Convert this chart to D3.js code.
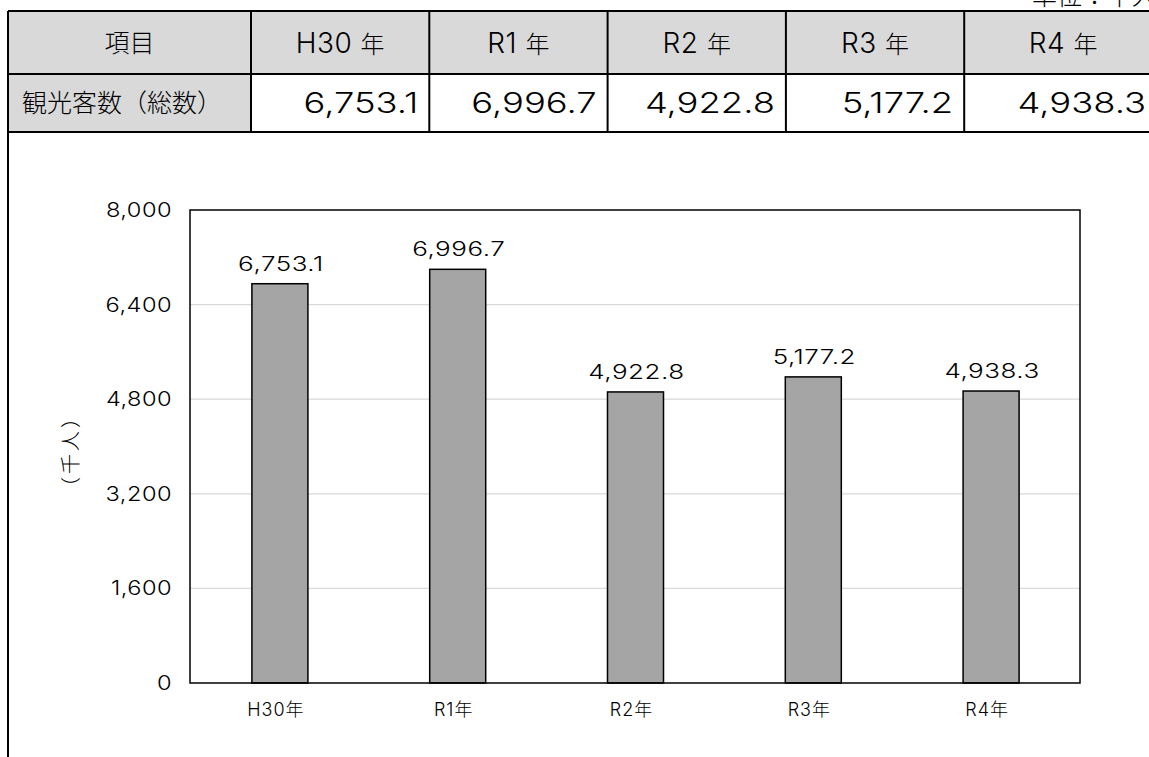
<!DOCTYPE html>
<html>
<head>
<meta charset="utf-8">
<script src="https://cdn.jsdelivr.net/npm/d3@7"></script>
<style>
  html, body { margin: 0; padding: 0; background: #fff; }
  svg { display: block; font-family: "Inter", "Noto Sans CJK JP", sans-serif; font-weight: 300; }
</style>
</head>
<body>
<svg id="chart" width="1149" height="757"></svg>
<script>
// Visitor counts (thousand people) by year
const categories = ["H30年", "R1年", "R2年", "R3年", "R4年"];
const headerLabels = ["H30 年", "R1 年", "R2 年", "R3 年", "R4 年"];
const values = [6753.1, 6996.7, 4922.8, 5177.2, 4938.3];
const yTicks = [0, 1600, 3200, 4800, 6400, 8000];
const itemLabel = "項目";
const rowLabel = "観光客数（総数）";
const unitLabel = "単位：千人";
const yTitle = "（千人）";

const svg = d3.select("#chart");
const fmt = d3.format(",.1f");
const FONT = "Inter, 'Noto Sans CJK JP', sans-serif";
const WIDE = 1.3;      // horizontal stretch for the wide numeral style
const WIDE_TICK = 1.18;

// ---------- summary table ----------
const tbl = { left: 8, top: 11, headerBottom: 74, bottom: 132, firstCol: 243, colW: 178.3, lastRight: 1162 };
const colEdges = [tbl.left, tbl.left + tbl.firstCol];
categories.forEach((c, i) => colEdges.push(i === categories.length - 1 ? tbl.lastRight : colEdges[colEdges.length - 1] + tbl.colW));

const tableG = svg.append("g");
// header row background
tableG.append("rect")
  .attr("x", tbl.left).attr("y", tbl.top)
  .attr("width", 1149 - tbl.left).attr("height", tbl.headerBottom - tbl.top)
  .attr("fill", "#d9d9d9");
// label cell of the data row
tableG.append("rect")
  .attr("x", tbl.left).attr("y", tbl.headerBottom)
  .attr("width", tbl.firstCol).attr("height", tbl.bottom - tbl.headerBottom)
  .attr("fill", "#d9d9d9");

// table rules
[tbl.top, tbl.headerBottom, tbl.bottom].forEach(y => {
  tableG.append("line").attr("x1", tbl.left).attr("x2", 1160).attr("y1", y).attr("y2", y)
    .attr("stroke", "#000").attr("stroke-width", 2);
});
colEdges.slice(1).forEach(x => {
  tableG.append("line").attr("x1", x).attr("x2", x).attr("y1", tbl.top).attr("y2", tbl.bottom)
    .attr("stroke", "#000").attr("stroke-width", 2);
});
// outer left border running down the page
tableG.append("line").attr("x1", tbl.left).attr("x2", tbl.left).attr("y1", tbl.top).attr("y2", 757)
  .attr("stroke", "#000").attr("stroke-width", 2);

const headerMid = (tbl.top + tbl.headerBottom) / 2;
const rowMid = (tbl.headerBottom + tbl.bottom) / 2;

// header cells
tableG.append("text")
  .attr("x", (colEdges[0] + colEdges[1]) / 2).attr("y", headerMid + 9)
  .attr("text-anchor", "middle").attr("font-size", 25).attr("fill", "#000")
  .text(itemLabel);

headerLabels.forEach((h, i) => {
  const [latin, kanji] = h.split(" ");
  const t = tableG.append("text")
    .attr("x", (colEdges[i + 1] + colEdges[i + 2]) / 2).attr("y", headerMid + 10)
    .attr("text-anchor", "middle").attr("fill", "#000");
  t.append("tspan").attr("font-size", 28).style("letter-spacing", "0.5px").text(latin + " ");
  t.append("tspan").attr("font-size", 24).text(kanji);
});

// data row
tableG.append("text")
  .attr("x", tbl.left + 14).attr("y", rowMid + 9)
  .attr("font-size", 25).attr("fill", "#000")
  .text(rowLabel);

values.forEach((v, i) => {
  const right = Math.min(colEdges[i + 2] - 11, 1146);
  tableG.append("text")
    .attr("transform", `translate(${right},${rowMid + 10}) scale(${WIDE},1)`)
    .attr("text-anchor", "end").attr("font-size", 28).attr("fill", "#000")
    .text(fmt(v));
});

// unit note at the top right
svg.append("text")
  .attr("x", 1032).attr("y", 5)
  .attr("font-size", 25).attr("fill", "#000")
  .text(unitLabel);

// ---------- bar chart ----------
const plot = { left: 190, right: 1080, top: 210, bottom: 683 };

const x = d3.scaleBand()
  .domain(categories)
  .range([plot.left + 1, plot.right])
  .paddingInner(0.685)
  .paddingOuter(0.3425);

const y = d3.scaleLinear()
  .domain([0, 8000])
  .range([plot.bottom, plot.top]);

// horizontal gridlines
svg.append("g")
  .selectAll("line")
  .data(yTicks.filter(t => t > 0 && t < 8000))
  .join("line")
  .attr("x1", plot.left).attr("x2", plot.right)
  .attr("y1", d => y(d)).attr("y2", d => y(d))
  .attr("stroke", "#d9d9d9").attr("stroke-width", 1.2);

// y axis labels
const yAxis = d3.axisLeft(y).tickValues(yTicks).tickSize(0).tickPadding(0).tickFormat(d3.format(","));
const yg = svg.append("g").attr("transform", `translate(${plot.left},0)`).call(yAxis);
yg.select(".domain").remove();
yg.selectAll("text")
  .attr("x", 0)
  .attr("transform", `translate(-18,0) scale(${WIDE_TICK},1)`)
  .attr("font-family", FONT).attr("font-weight", 300)
  .attr("font-size", 20).attr("fill", "#000")
  .style("letter-spacing", "0.4px");

// x axis labels
const xAxis = d3.axisBottom(x).tickSize(0).tickPadding(20);
const xg = svg.append("g").attr("transform", `translate(0,${plot.bottom})`).call(xAxis);
xg.select(".domain").remove();
xg.selectAll("text")
  .attr("font-family", FONT).attr("font-weight", 300)
  .attr("font-size", 18).attr("fill", "#000")
  .attr("dx", -4)
  .style("letter-spacing", "1px");

// bars
svg.append("g")
  .selectAll("rect")
  .data(values)
  .join("rect")
  .attr("x", (d, i) => x(categories[i]))
  .attr("y", d => y(d))
  .attr("width", x.bandwidth())
  .attr("height", d => plot.bottom - y(d))
  .attr("fill", "#a5a5a5")
  .attr("stroke", "#000")
  .attr("stroke-width", 1.5);

// value labels
svg.append("g")
  .selectAll("text")
  .data(values)
  .join("text")
  .attr("transform", (d, i) => `translate(${x(categories[i]) + x.bandwidth() / 2 + 1},${y(d) - 13}) scale(${WIDE},1)`)
  .attr("text-anchor", "middle")
  .attr("font-size", 20).attr("fill", "#000")
  .style("letter-spacing", "0.4px")
  .text(d => fmt(d));

// plot frame
svg.append("rect")
  .attr("x", plot.left).attr("y", plot.top)
  .attr("width", plot.right - plot.left).attr("height", plot.bottom - plot.top)
  .attr("fill", "none").attr("stroke", "#000").attr("stroke-width", 1.5);

// y axis title, rotated
svg.append("text")
  .attr("transform", `translate(78,451) rotate(-90)`)
  .attr("text-anchor", "middle")
  .attr("font-size", 20).attr("fill", "#000")
  .style("letter-spacing", "3px")
  .text(yTitle);
</script>
</body>
</html>
